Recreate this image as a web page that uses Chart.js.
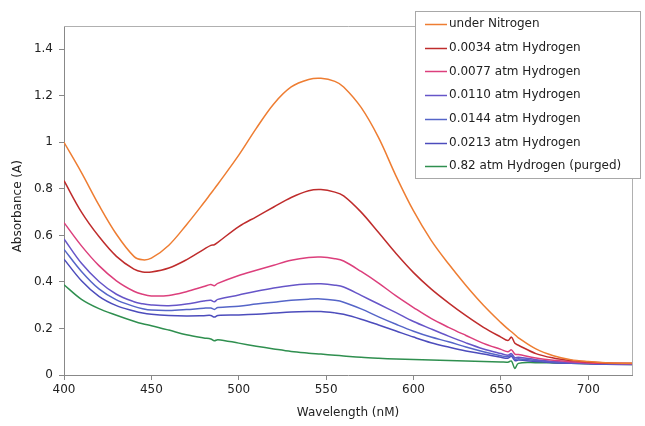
<!DOCTYPE html>
<html>
<head>
<meta charset="utf-8">
<script src="https://cdn.jsdelivr.net/npm/chart.js@4"></script>
<style>
  html, body { margin: 0; padding: 0; background: #fff; }
  #wrap { width: 645px; height: 426px; }
</style>
</head>
<body>
<div id="wrap"><canvas id="spectra" width="645" height="426"></canvas></div>
<script>
const wavelengths = [400, 410, 420, 430, 440, 445, 450, 460, 470, 480, 484, 486, 488, 500, 510, 520, 530, 540, 547, 555,
    560, 570, 580, 590, 600, 610, 620, 630, 640, 650, 654, 656, 658, 660, 670, 680, 690, 700, 710, 725];

const seriesLabels = ['under Nitrogen', '0.0034 atm Hydrogen', '0.0077 atm Hydrogen', '0.0110 atm Hydrogen',
    '0.0144 atm Hydrogen', '0.0213 atm Hydrogen', '0.82 atm Hydrogen (purged)'];

const underNitrogen = [1.00, 0.87, 0.73, 0.605, 0.51, 0.495, 0.502, 0.558, 0.645, 0.74, 0.78, 0.80, 0.82, 0.945, 1.06, 1.165, 1.238, 1.27, 1.275, 1.262,
    1.238, 1.15, 1.02, 0.855, 0.705, 0.58, 0.478, 0.385, 0.30, 0.225, 0.198, 0.186, 0.173, 0.16, 0.112, 0.083, 0.066, 0.058, 0.053, 0.05];
const h0034 = [0.835, 0.70, 0.595, 0.51, 0.455, 0.443, 0.443, 0.46, 0.495, 0.54, 0.557, 0.56, 0.57, 0.638, 0.68, 0.722, 0.763, 0.792, 0.797, 0.786,
    0.77, 0.70, 0.612, 0.522, 0.44, 0.37, 0.31, 0.255, 0.205, 0.163, 0.148, 0.163, 0.136, 0.128, 0.092, 0.073, 0.062, 0.056, 0.052, 0.05];
const h0077 = [0.655, 0.555, 0.47, 0.405, 0.36, 0.347, 0.34, 0.342, 0.358, 0.38, 0.389, 0.384, 0.394, 0.428, 0.45, 0.472, 0.493, 0.505, 0.507, 0.50,
    0.49, 0.445, 0.395, 0.34, 0.29, 0.243, 0.205, 0.17, 0.136, 0.11, 0.10, 0.108, 0.09, 0.088, 0.073, 0.063, 0.057, 0.052, 0.05, 0.048];
const h0110 = [0.585, 0.48, 0.402, 0.347, 0.315, 0.306, 0.301, 0.298, 0.305, 0.318, 0.321, 0.315, 0.325, 0.344, 0.36, 0.374, 0.385, 0.391, 0.392, 0.386,
    0.378, 0.342, 0.305, 0.268, 0.23, 0.198, 0.167, 0.138, 0.112, 0.092, 0.085, 0.092, 0.075, 0.076, 0.066, 0.058, 0.053, 0.05, 0.048, 0.047];
const h0144 = [0.54, 0.445, 0.37, 0.323, 0.295, 0.285, 0.279, 0.277, 0.281, 0.287, 0.288, 0.282, 0.29, 0.296, 0.305, 0.313, 0.321, 0.326, 0.327, 0.321,
    0.313, 0.284, 0.25, 0.218, 0.188, 0.163, 0.143, 0.12, 0.10, 0.083, 0.078, 0.086, 0.068, 0.07, 0.062, 0.056, 0.052, 0.049, 0.047, 0.046];
const h0213 = [0.498, 0.405, 0.338, 0.298, 0.275, 0.266, 0.261, 0.256, 0.254, 0.255, 0.256, 0.249, 0.256, 0.258, 0.261, 0.266, 0.271, 0.273, 0.273, 0.267,
    0.261, 0.24, 0.215, 0.189, 0.163, 0.139, 0.12, 0.103, 0.09, 0.076, 0.072, 0.08, 0.062, 0.064, 0.058, 0.053, 0.05, 0.048, 0.046, 0.045];
const purged = [0.388, 0.325, 0.285, 0.257, 0.231, 0.22, 0.212, 0.193, 0.173, 0.159, 0.155, 0.147, 0.152, 0.137, 0.124, 0.112, 0.101, 0.094, 0.09, 0.085,
    0.082, 0.076, 0.072, 0.069, 0.067, 0.065, 0.062, 0.06, 0.058, 0.056, 0.055, 0.06, 0.028, 0.05, 0.053, 0.052, 0.05, 0.048, 0.047, 0.045];

const seriesValues = [underNitrogen, h0034, h0077, h0110, h0144, h0213, purged];
const seriesColors = ['#ee7d32', '#bf2c2c', '#dc3f7c', '#6655c8', '#5565c8', '#4c4cbc', '#2f8f4f'];

const xTicks = [400, 450, 500, 550, 600, 650, 700];
const yTicks = [0, 0.2, 0.4, 0.6, 0.8, 1, 1.2, 1.4];

const font = { family: 'DejaVu Sans', size: 12 };
const textColor = '#222';

const datasets = seriesLabels.map((label, i) => ({
    label: label,
    data: wavelengths.map((w, j) => ({ x: w, y: seriesValues[i][j] })),
    borderColor: seriesColors[i],
    borderWidth: 1.5,
    pointRadius: 0,
    fill: false,
    tension: 0.35,
}));

// light gray frame round the plot area (Excel style)
const frame = {
    id: 'frame',
    beforeDatasetsDraw(chart) {
        const { ctx, chartArea: a } = chart;
        ctx.save();
        ctx.strokeStyle = '#b0b0b0';
        ctx.lineWidth = 1;
        ctx.beginPath();
        ctx.moveTo(a.left, a.top + 0.5);
        ctx.lineTo(a.right + 0.5, a.top + 0.5);
        ctx.lineTo(a.right + 0.5, a.bottom);
        ctx.stroke();
        ctx.restore();
    }
};

// boxed legend sitting over the top right corner
const boxLegend = {
    id: 'boxLegend',
    afterDraw(chart) {
        const ctx = chart.ctx;
        ctx.save();
        ctx.fillStyle = '#fff';
        ctx.strokeStyle = '#a8a8a8';
        ctx.lineWidth = 1;
        ctx.fillRect(415, 11, 226, 168);
        ctx.strokeRect(415.5, 11.5, 225, 167);
        ctx.font = '12px "DejaVu Sans"';
        ctx.textBaseline = 'middle';
        chart.data.datasets.forEach((ds, i) => {
            const y = 24 + i * 23.7;
            ctx.strokeStyle = ds.borderColor;
            ctx.lineWidth = 1.5;
            ctx.beginPath();
            ctx.moveTo(425, Math.round(y) + 0.5);
            ctx.lineTo(447, Math.round(y) + 0.5);
            ctx.stroke();
            ctx.fillStyle = textColor;
            ctx.fillText(ds.label, 449, y);
        });
        ctx.restore();
    }
};

new Chart(document.getElementById('spectra'), {
    type: 'line',
    data: { datasets: datasets },
    plugins: [frame, boxLegend],
    options: {
        responsive: false,
        animation: false,
        layout: { padding: { top: 26, right: 13, left: 0, bottom: 0 } },
        plugins: { legend: { display: false }, tooltip: { enabled: false } },
        scales: {
            x: {
                type: 'linear',
                min: 400,
                max: 725,
                afterBuildTicks: s => { s.ticks = xTicks.map(v => ({ value: v })); },
                afterFit: s => { s.height = 51; },
                ticks: { font: font, color: textColor, padding: 3, maxRotation: 0 },
                grid: { display: true, drawOnChartArea: false, drawTicks: true, tickLength: 5, color: '#888' },
                border: { color: '#888', width: 1 },
                title: { display: true, text: 'Wavelength (nM)', font: font, color: textColor, padding: { top: 2, bottom: 6 } },
            },
            y: {
                min: 0,
                max: 1.5,
                afterBuildTicks: s => { s.ticks = yTicks.map(v => ({ value: v })); },
                afterFit: s => { s.width = 64; },
                ticks: { font: font, color: textColor, padding: 6, callback: v => String(+v.toFixed(1)) },
                grid: { display: true, drawOnChartArea: false, drawTicks: true, tickLength: 5, color: '#888' },
                border: { color: '#888', width: 1 },
                title: { display: true, text: 'Absorbance (A)   ', font: font, color: textColor, padding: { top: 11, bottom: 0 } },
            },
        },
    },
});
</script>
</body>
</html>
